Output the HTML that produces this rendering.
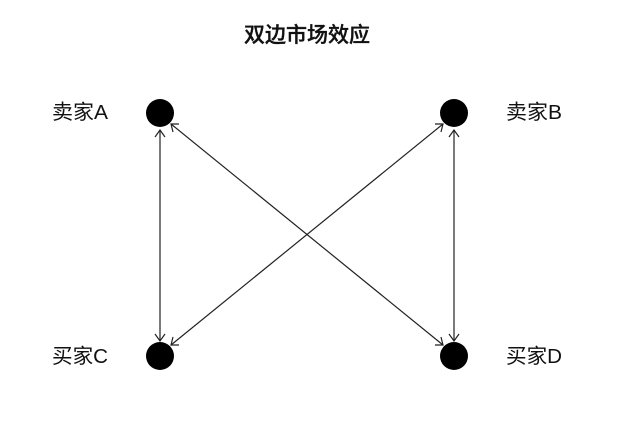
<!DOCTYPE html>
<html><head><meta charset="utf-8"><style>
html,body{margin:0;padding:0;background:#fff;width:640px;height:434px;overflow:hidden}
svg{display:block}
text{font-family:"Liberation Sans","Noto Sans CJK SC",sans-serif;fill:#111}
</style></head><body>
<svg width="640" height="434" viewBox="0 0 640 434" xmlns="http://www.w3.org/2000/svg">
<rect width="640" height="434" fill="#fff"/>
<text x="244" y="42" font-size="21" font-weight="500" stroke="#111" stroke-width="0.35" textLength="126" lengthAdjust="spacingAndGlyphs" style="font-family:'Noto Sans CJK SC',sans-serif">双边市场效应</text>
<g font-size="20.5" font-weight="400" style="font-family:'Noto Sans CJK SC',sans-serif">
<text x="52" y="119" textLength="56" lengthAdjust="spacingAndGlyphs">卖家A</text>
<text x="506" y="119" textLength="56" lengthAdjust="spacingAndGlyphs">卖家B</text>
<text x="52" y="363" textLength="56" lengthAdjust="spacingAndGlyphs">买家C</text>
<text x="506" y="363" textLength="56" lengthAdjust="spacingAndGlyphs">买家D</text>
</g>
<g fill="#000">
<circle cx="160" cy="113" r="14"/>
<circle cx="454" cy="113" r="14"/>
<circle cx="160" cy="356" r="14"/>
<circle cx="454" cy="356" r="14"/>
</g>
<g stroke="#222" stroke-width="1.2" fill="none">
<line x1="160" y1="131" x2="160" y2="340"/>
<path d="M155 137L160 130L165 137"/>
<path d="M155 334L160 341L165 334"/>
<line x1="454" y1="131" x2="454" y2="340"/>
<path d="M449 137L454 130L459 137"/>
<path d="M449 334L454 341L459 334"/>
<line x1="171" y1="124" x2="443" y2="345"/>
<path d="M179 124L171 124L173 132"/>
<path d="M441 337L443 345L435 345"/>
<line x1="443" y1="124" x2="171" y2="345"/>
<path d="M435 124L443 124L441 132"/>
<path d="M173 337L171 345L179 345"/>
</g>
</svg>
</body></html>
